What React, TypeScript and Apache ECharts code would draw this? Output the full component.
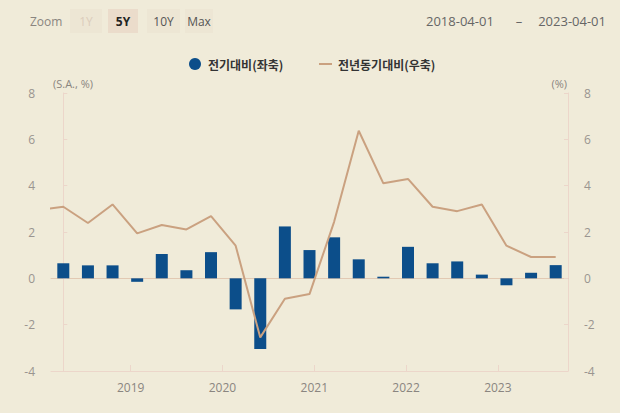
import React, { useEffect, useRef } from "react";
import * as echarts from "echarts";

const quarterIndex = [0, 1, 2, 3, 4, 5, 6, 7, 8, 9, 10, 11, 12, 13, 14, 15, 16, 17, 18, 19, 20];
const qoqValues = [0.65, 0.56, 0.56, -0.15, 1.05, 0.35, 1.13, -1.34, -3.05, 2.24, 1.22, 1.77, 0.82, 0.07, 1.36, 0.65, 0.73, 0.16, -0.3, 0.24, 0.57];
const yoyIndex = [-1, 0, 1, 2, 3, 4, 5, 6, 7, 8, 9, 10, 11, 12, 13, 14, 15, 16, 17, 18, 19, 20];
const yoyValues = [2.95, 3.09, 2.39, 3.19, 1.94, 2.3, 2.11, 2.69, 1.41, -2.55, -0.88, -0.68, 2.44, 6.37, 4.1, 4.29, 3.09, 2.9, 3.19, 1.41, 0.92, 0.92];
const yearTicks = [2019, 2020, 2021, 2022, 2023];
const yTicks = [-4, -2, 0, 2, 4, 6, 8];
const seriesNames = ["전기대비(좌축)", "전년동기대비(우축)"];
const axisNames = ["(S.A., %)", "(%)"];
const zoomButtons = ["1Y", "5Y", "10Y", "Max"];
const dateRange = ["2018-04-01", "2023-04-01"];

const BG = "#f0ebd9";
const BAR = "#0c4e8a";
const LINE = "#caa180";
const AXIS = "#ecd6ca";
const FONT = "'Open Sans', 'Noto Sans', sans-serif";
const KFONT = "'Noto Sans CJK KR', 'Noto Sans', sans-serif";

export default function App() {
  const ref = useRef<HTMLDivElement>(null);
  useEffect(() => {
    if (!ref.current) return;
    const chart = echarts.init(ref.current, undefined, { renderer: "svg" });
    const btnX = [70, 108, 147, 185];
    const btnW = [32, 30, 33, 28];
    const graphics: any[] = [
      { type: "text", x: 30, y: 21, style: { text: "Zoom", fill: "#8a8580", font: `12px ${FONT}`, verticalAlign: "middle" } },
    ];
    zoomButtons.forEach((b, i) => {
      const selected = b === "5Y";
      graphics.push({
        type: "rect",
        shape: { x: btnX[i], y: 9, width: btnW[i], height: 24 },
        style: { fill: selected ? "#ebdccb" : "#ede6d4" },
      });
      graphics.push({
        type: "text",
        x: btnX[i] + btnW[i] / 2,
        y: 21,
        style: {
          text: b,
          fill: selected ? "#222" : b === "1Y" ? "#dccdbc" : "#555",
          font: `${selected ? "bold " : ""}12px ${FONT}`,
          align: "center",
          verticalAlign: "middle",
        },
      });
    });
    graphics.push({ type: "text", x: 426, y: 21, style: { text: dateRange[0], fill: "#666", font: `13px ${FONT}`, verticalAlign: "middle" } });
    graphics.push({ type: "text", x: 519, y: 21, style: { text: "–", fill: "#666", font: `13px ${FONT}`, align: "center", verticalAlign: "middle" } });
    graphics.push({ type: "text", x: 606, y: 21, style: { text: dateRange[1], fill: "#666", font: `13px ${FONT}`, align: "right", verticalAlign: "middle" } });
    graphics.push({ type: "text", x: 53, y: 83, style: { text: axisNames[0], fill: "#8a8580", font: `11px ${FONT}`, verticalAlign: "middle" } });
    graphics.push({ type: "text", x: 567, y: 83, style: { text: axisNames[1], fill: "#8a8580", font: `11px ${FONT}`, align: "right", verticalAlign: "middle" } });

    const yAxisCommon = {
      type: "value",
      min: yTicks[0],
      max: yTicks[yTicks.length - 1],
      interval: 2,
      axisLine: { show: true, lineStyle: { color: AXIS } },
      axisTick: { show: true, inside: true, length: 4, lineStyle: { color: AXIS } },
      splitLine: { show: false },
      axisLabel: { color: "#9a9590", fontSize: 12, fontFamily: FONT, margin: 16 },
    };

    chart.setOption({
      animation: false,
      backgroundColor: BG,
      textStyle: { fontFamily: FONT },
      graphic: graphics,
      legend: [
        {
          data: [{ name: seriesNames[0], icon: "circle" }],
          left: 184,
          top: 53,
          itemWidth: 12,
          itemHeight: 12,
          textStyle: { fontFamily: KFONT, fontSize: 12, fontWeight: "bold", color: "#333", padding: [0, 0, 0, 2] },
        },
        {
          data: [{ name: seriesNames[1], icon: "rect" }],
          left: 314,
          top: 53,
          itemWidth: 13,
          itemHeight: 2,
          textStyle: { fontFamily: KFONT, fontSize: 12, fontWeight: "bold", color: "#333", padding: [0, 0, 0, 1] },
        },
      ],
      grid: { left: 51, right: 52, top: 93, bottom: 42, containLabel: false },
      xAxis: [
        {
          type: "value",
          min: -0.5,
          max: 20.5,
          position: "bottom",
          axisLine: { show: true, onZero: true, lineStyle: { color: "#e2c9b3" } },
          axisTick: { show: false },
          axisLabel: { show: false },
          splitLine: { show: false },
        },
        {
          type: "value",
          min: 2018.132,
          max: 2023.764,
          position: "bottom",
          axisLine: { show: true, onZero: false, lineStyle: { color: AXIS } },
          axisTick: { show: true, inside: true, length: 6, customValues: yearTicks, lineStyle: { color: AXIS } },
          axisLabel: { show: true, customValues: yearTicks, color: "#8a8580", fontSize: 12, fontFamily: FONT, margin: 10, formatter: (v: number) => String(Math.round(v)) },
          splitLine: { show: false },
        },
      ],
      yAxis: [
        { ...yAxisCommon, position: "left" },
        { ...yAxisCommon, position: "right" },
      ],
      series: [
        {
          name: seriesNames[0],
          type: "bar",
          xAxisIndex: 0,
          yAxisIndex: 0,
          barWidth: 12,
          itemStyle: { color: BAR },
          data: quarterIndex.map((q, i) => [q, qoqValues[i]]),
        },
        {
          name: seriesNames[1],
          type: "line",
          xAxisIndex: 0,
          yAxisIndex: 1,
          clip: true,
          showSymbol: false,
          symbol: "none",
          lineStyle: { color: LINE, width: 2 },
          itemStyle: { color: LINE },
          data: yoyIndex.map((q, i) => [q, yoyValues[i]]),
        },
      ],
    });
    return () => chart.dispose();
  }, []);
  return <div ref={ref} style={{ width: 620, height: 413, position: "absolute", left: 0, top: 0 }} />;
}
